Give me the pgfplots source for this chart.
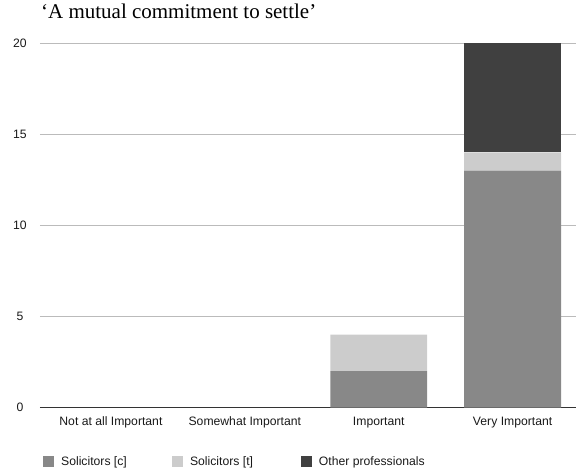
\documentclass[border=0pt]{standalone}
\usepackage{fontspec}
\setmainfont{Liberation Serif}
\newfontfamily\chartsans{Liberation Sans}
\usepackage{pgfplots}
\pgfplotsset{compat=1.18}
\definecolor{solc}{HTML}{888888}
\definecolor{solt}{HTML}{CCCCCC}
\definecolor{othp}{HTML}{404040}
\definecolor{gridc}{HTML}{BBBBBB}
\begin{document}
\begin{tikzpicture}
\begin{axis}[
  at={(0pt,0pt)}, anchor=south west,
  scale only axis,
  width=536pt, height=365pt,
  ybar stacked,
  bar width=97pt,
  xmin=-0.53, xmax=3.47,
  ymin=0, ymax=20,
  ytick={0,5,10,15,20},
  xtick={0,1,2,3},
  xticklabels={Not at all Important, Somewhat Important, Important, Very Important},
  ymajorgrids,
  grid style={gridc, line width=0.8pt},
  axis x line*=bottom,
  axis y line*=left,
  y axis line style={draw=none},
  x axis line style={draw=black!80, line width=0.9pt, -},
  major tick length=0pt,
  /pgf/number format/assume math mode=true,
  ticklabel style={font=\chartsans\fontsize{12.2}{14}\selectfont, text=black!90},
  yticklabel style={anchor=center, xshift=-20pt},
  xticklabel style={anchor=center, yshift=-15pt},
  title={‘A mutual commitment to settle’},
  title style={at={(0,1)}, anchor=base west, xshift=1pt, yshift=18pt, inner sep=0pt, font=\fontsize{21}{24}\selectfont},
  legend image code/.code={\fill[#1] (0pt,-5.5pt) rectangle (11pt,5.5pt);},
  legend columns=3,
  legend style={
    draw=none, fill=none,
    at={(0.0056,-0.148)}, anchor=west,
    inner sep=0pt,
    nodes={inner sep=0pt, font=\chartsans\fontsize{12.2}{14}\selectfont, text=black!90},
    /tikz/every odd column/.append style={column sep=7pt},
  },
  legend cell align=left,
]
\addplot[fill=solc, draw=none] coordinates {(0,0) (1,0) (2,2) (3,13)};
\addlegendentry{\makebox[111pt][l]{Solicitors [c]}}
\addplot[fill=solt, draw=none] coordinates {(0,0) (1,0) (2,2) (3,1)};
\addlegendentry{\makebox[111pt][l]{Solicitors [t]}}
\addplot[fill=othp, draw=none] coordinates {(0,0) (1,0) (2,0) (3,6)};
\addlegendentry{Other professionals}
\end{axis}
\useasboundingbox (-40pt,-67pt) rectangle (536pt,408pt);
\end{tikzpicture}
\end{document}
